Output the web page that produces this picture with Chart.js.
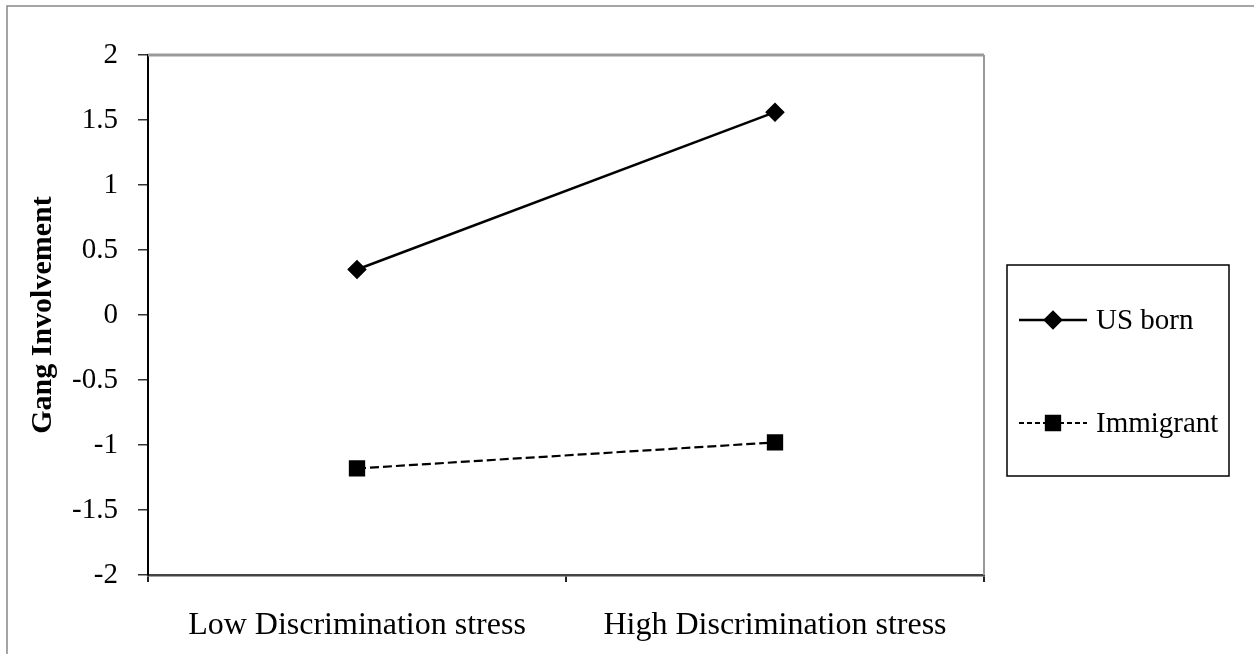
<!DOCTYPE html>
<html>
<head>
<meta charset="utf-8">
<script src="https://cdn.jsdelivr.net/npm/chart.js@4"></script>
<style>
  html, body { margin: 0; padding: 0; background: #fff; }
  #wrap { position: relative; width: 1254px; height: 654px; }
</style>
</head>
<body>
<div id="wrap"><canvas id="myChart" width="1254" height="654"></canvas></div>
<script>
var categories = ["Low Discrimination stress", "High Discrimination stress"];
var usBorn = [0.35, 1.56];
var immigrant = [-1.18, -0.98];
var yTicks = [-2, -1.5, -1, -0.5, 0, 0.5, 1, 1.5, 2];

// frame lines (top / right gray) and outer page border
var framePlugin = {
    id: 'frame',
    afterDraw: function(chart) {
        var ctx = chart.ctx;
        var a = chart.chartArea;
        ctx.save();
        ctx.strokeStyle = '#999';
        ctx.lineWidth = 3;
        ctx.beginPath();
        ctx.moveTo(a.left, a.top);
        ctx.lineTo(a.right, a.top);
        ctx.stroke();
        ctx.lineWidth = 2;
        ctx.beginPath();
        ctx.moveTo(a.right, a.top);
        ctx.lineTo(a.right, a.bottom);
        ctx.stroke();
        // outer border
        ctx.strokeStyle = '#888';
        ctx.lineWidth = 1.5;
        ctx.beginPath();
        ctx.moveTo(7, 654);
        ctx.lineTo(7, 6);
        ctx.lineTo(1254, 6);
        ctx.stroke();
        ctx.restore();
    }
};

// boxed legend on the right, built from the datasets
var boxLegend = {
    id: 'boxLegend',
    afterDraw: function(chart) {
        var ctx = chart.ctx;
        var box = { x: 1007, y: 265, w: 222, h: 211 };
        var rows = [320, 423];
        ctx.save();
        ctx.strokeStyle = '#000';
        ctx.lineWidth = 1.5;
        ctx.strokeRect(box.x, box.y, box.w, box.h);
        chart.data.datasets.forEach(function(ds, i) {
            var y = rows[i];
            ctx.strokeStyle = ds.borderColor;
            ctx.lineWidth = ds.borderWidth;
            ctx.setLineDash(ds.borderDash ? [5, 3] : []);
            ctx.beginPath();
            ctx.moveTo(1019, y);
            ctx.lineTo(1087, y);
            ctx.stroke();
            ctx.setLineDash([]);
            Chart.helpers.drawPoint(ctx, {
                pointStyle: ds.pointStyle,
                radius: ds.pointRadius,
                borderWidth: 1,
                rotation: 0
            }, 1053, y);
            ctx.fillStyle = '#000';
            ctx.font = '29px "Liberation Serif"';
            ctx.textBaseline = 'middle';
            ctx.textAlign = 'left';
            ctx.fillText(ds.label, 1096, y + 1);
        });
        ctx.restore();
    }
};

var ctx = document.getElementById('myChart').getContext('2d');
ctx.fillStyle = '#000';
ctx.strokeStyle = '#000';
var chart = new Chart(ctx, {
    type: 'line',
    data: {
        labels: categories,
        datasets: [
            {
                label: 'US born',
                data: usBorn,
                borderColor: '#000',
                backgroundColor: '#000',
                borderWidth: 2.5,
                pointStyle: 'rectRot',
                pointRadius: 8,
                pointBackgroundColor: '#000',
                pointBorderColor: '#000',
                tension: 0
            },
            {
                label: 'Immigrant',
                data: immigrant,
                borderColor: '#000',
                backgroundColor: '#000',
                borderWidth: 2.2,
                borderDash: [9, 4],
                pointStyle: 'rect',
                pointRadius: 10,
                pointBackgroundColor: '#000',
                pointBorderColor: '#000',
                tension: 0
            }
        ]
    },
    options: {
        responsive: false,
        animation: false,
        layout: { padding: { left: 0, right: 270, top: 55, bottom: 0 } },
        scales: {
            x: {
                offset: true,
                afterFit: function(s) { s.height = 79; },
                grid: {
                    offset: true,
                    drawOnChartArea: false,
                    drawTicks: true,
                    tickLength: 7,
                    color: '#222',
                    lineWidth: 2
                },
                border: { color: '#444', width: 2.5 },
                ticks: {
                    color: '#000',
                    padding: 24,
                    maxRotation: 0,
                    font: { family: 'Liberation Serif', size: 32 }
                }
            },
            y: {
                min: -2,
                max: 2,
                afterFit: function(s) { s.width = 148; },
                afterBuildTicks: function(s) {
                    s.ticks = yTicks.map(function(v) { return { value: v }; });
                },
                grid: {
                    drawOnChartArea: false,
                    drawTicks: true,
                    tickLength: 10,
                    color: '#333',
                    lineWidth: 1.5
                },
                border: { color: '#000', width: 2 },
                ticks: {
                    color: '#000',
                    padding: 20,
                    font: { family: 'Liberation Serif', size: 29 },
                    callback: function(v) { return String(v); }
                },
                title: {
                    display: true,
                    text: 'Gang Involvement',
                    color: '#000',
                    padding: { top: 25, bottom: 0 },
                    font: { family: 'Liberation Serif', size: 30, weight: 'bold' }
                }
            }
        },
        plugins: {
            legend: { display: false },
            tooltip: { enabled: false }
        }
    },
    plugins: [framePlugin, boxLegend]
});
</script>
</body>
</html>
